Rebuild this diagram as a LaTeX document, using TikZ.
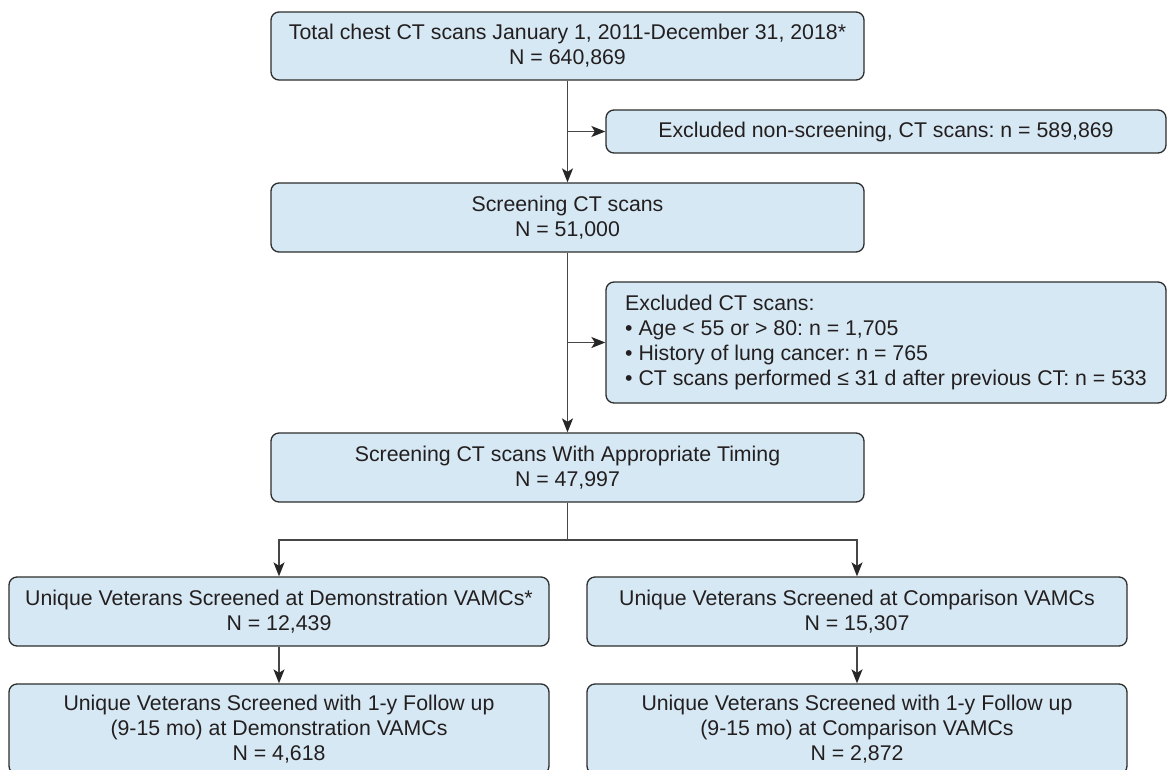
\documentclass[tikz,border=0pt]{standalone}
\usepackage{fontspec}
\setmainfont{Liberation Sans}
\usetikzlibrary{arrows.meta}
\definecolor{boxfill}{RGB}{214,232,243}
\definecolor{boxline}{RGB}{45,45,45}
\definecolor{conline}{RGB}{70,70,70}
\definecolor{txt}{RGB}{35,31,32}
\frenchspacing
\tikzset{
  flowbox/.style={draw=boxline, line width=1.3pt, fill=boxfill, rounded corners=8pt,
    align=center, inner sep=0pt, text=txt,
    font=\fontsize{21.3pt}{25pt}\selectfont},
  conn/.style={draw=conline, line width=1.5pt},
  arr/.style={conn, -{Stealth[length=14pt,width=11pt,inset=3.5pt,color=black!85]}}
}
\begin{document}
\begin{tikzpicture}[x=1pt,y=-1pt]
\useasboundingbox (0,0) rectangle (1168,769);
\clip (0,0) rectangle (1168,769);
\fill[white] (0,0) rectangle (1168,769);

\node[flowbox, minimum width=593pt, minimum height=68pt] (top) at (567.5,46)
  {Total chest CT scans January 1, 2011-December 31, 2018*\\N = 640,869};
\node[flowbox, minimum width=560pt, minimum height=43pt] (excl1) at (886,131.5)
  {Excluded non-screening, CT scans: n = 589,869};
\node[flowbox, minimum width=593pt, minimum height=69pt] (scr) at (567.5,217.5)
  {Screening CT scans\\N = 51,000};
\node[flowbox, minimum width=560pt, minimum height=121pt, align=left] (excl2) at (886,342.5)
  {Excluded CT scans:\\
   \textbullet\ Age < 55 or > 80: n = 1,705\\
   \textbullet\ History of lung cancer: n = 765\\
   \textbullet\ CT scans performed ≤ 31 d after previous CT: n = 533};
\node[flowbox, minimum width=593pt, minimum height=69pt] (timing) at (567.5,467.5)
  {Screening CT scans With Appropriate Timing\\N = 47,997};
\node[flowbox, minimum width=540pt, minimum height=69pt] (demo) at (279,611.5)
  {Unique Veterans Screened at Demonstration VAMCs*\\N = 12,439};
\node[flowbox, minimum width=540pt, minimum height=69pt] (comp) at (857,611.5)
  {Unique Veterans Screened at Comparison VAMCs\\N = 15,307};
\node[flowbox, minimum width=540pt, minimum height=90pt] (demofu) at (279,729)
  {Unique Veterans Screened with 1-y Follow up\\(9-15 mo) at Demonstration VAMCs\\N = 4,618};
\node[flowbox, minimum width=540pt, minimum height=90pt] (compfu) at (857,729)
  {Unique Veterans Screened with 1-y Follow up\\(9-15 mo) at Comparison VAMCs\\N = 2,872};

\coordinate (split) at (567.5,540);

\draw[arr] (top.south) -- (scr.north);
\draw[arr] (top.south |- excl1.west) -- (excl1.west);
\draw[arr] (scr.south) -- (timing.north);
\draw[arr] (scr.south |- excl2.west) -- (excl2.west);
\draw[conn] (timing.south) -- (split);
\draw[arr] (split) -| (demo.north);
\draw[arr] (split) -| (comp.north);
\draw[arr] (demo.south) -- (demofu.north);
\draw[arr] (comp.south) -- (compfu.north);
\end{tikzpicture}
\end{document}
